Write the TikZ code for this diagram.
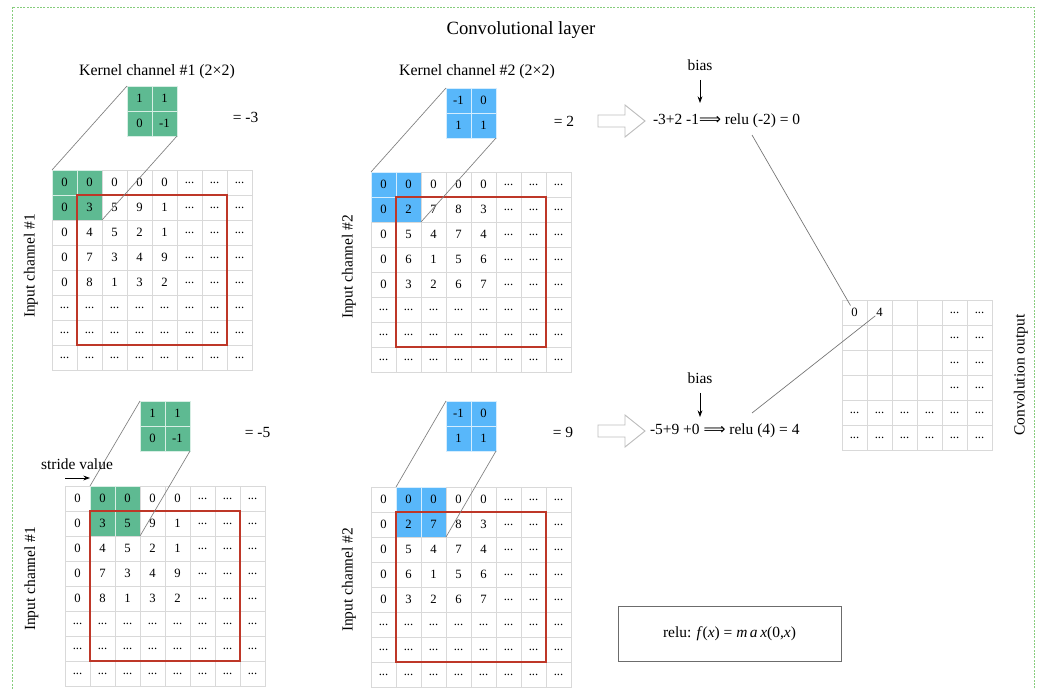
\documentclass[tikz,border=0pt]{standalone}
\usepackage{fontspec}
\setmainfont{Liberation Serif}
\newfontfamily\symfont{DejaVu Sans}
\usetikzlibrary{arrows.meta}

\definecolor{kgreen}{RGB}{94,186,146}
\definecolor{kblue}{RGB}{88,183,250}
\definecolor{gridgray}{RGB}{217,217,217}
\definecolor{winred}{RGB}{190,55,40}
\definecolor{framegreen}{RGB}{135,205,125}
\definecolor{hollow}{RGB}{190,190,190}

% ellipsis used as a cell entry (protected so \foreach leaves it alone)
\protected\def\cdts{...}
% long double arrow as a single glyph
\newcommand\impl{{\symfont\fontsize{11.5}{12}\selectfont ⟹}}

% one grid of 25px cells; #1 name, #2/#3 top-left corner, #4 first highlighted column,
% #5 style of the highlighted 2x2 block, #6 macro holding the rows
\newcommand\cellgrid[6]{%
  \foreach \row [count=\rr from 0] in #6 {%
    \foreach \v [count=\cc from 0] in \row {%
      \pgfmathtruncatemacro\hit{(\cc>=#4)&&(\cc<=#4+1)&&(\rr<=1)}%
      \ifnum\hit=1 \def\st{#5}\else\def\st{cell}\fi
      \node[\st] (#1-\cc-\rr) at ({#2+12.5+25*\cc},{#3+12.5+25*\rr}) {\v};
    }%
  }%
}

\def\rowsone{{0,0,0,0,0,\cdts,\cdts,\cdts},{0,3,5,9,1,\cdts,\cdts,\cdts},{0,4,5,2,1,\cdts,\cdts,\cdts},{0,7,3,4,9,\cdts,\cdts,\cdts},{0,8,1,3,2,\cdts,\cdts,\cdts},{\cdts,\cdts,\cdts,\cdts,\cdts,\cdts,\cdts,\cdts},{\cdts,\cdts,\cdts,\cdts,\cdts,\cdts,\cdts,\cdts},{\cdts,\cdts,\cdts,\cdts,\cdts,\cdts,\cdts,\cdts}}
\def\rowstwo{{0,0,0,0,0,\cdts,\cdts,\cdts},{0,2,7,8,3,\cdts,\cdts,\cdts},{0,5,4,7,4,\cdts,\cdts,\cdts},{0,6,1,5,6,\cdts,\cdts,\cdts},{0,3,2,6,7,\cdts,\cdts,\cdts},{\cdts,\cdts,\cdts,\cdts,\cdts,\cdts,\cdts,\cdts},{\cdts,\cdts,\cdts,\cdts,\cdts,\cdts,\cdts,\cdts},{\cdts,\cdts,\cdts,\cdts,\cdts,\cdts,\cdts,\cdts}}
\def\rowsout{{0,4,{},{},\cdts,\cdts},{{},{},{},{},\cdts,\cdts},{{},{},{},{},\cdts,\cdts},{{},{},{},{},\cdts,\cdts},{\cdts,\cdts,\cdts,\cdts,\cdts,\cdts},{\cdts,\cdts,\cdts,\cdts,\cdts,\cdts}}
\def\kernelone{{1,1},{0,-1}}
\def\kerneltwo{{-1,0},{1,1}}

\tikzset{
  cell/.style={draw=gridgray, line width=0.6pt, minimum width=18.75pt, minimum height=18.75pt,
    inner sep=0pt, outer sep=0pt, font=\fontsize{9.5}{11}\selectfont},
  kg/.style={cell, fill=kgreen, draw=white!75!kgreen},
  kb/.style={cell, fill=kblue, draw=white!75!kblue},
  lbl/.style={inner sep=0pt, outer sep=0pt, font=\fontsize{11.6}{13}\selectfont},
  ktitle/.style={inner sep=0pt, font=\fontsize{11.9}{14}\selectfont},
  proj/.style={draw=gray, line width=0.5pt},
  redbox/.style={draw=winred, line width=0.8pt},
  arr/.style={-{Stealth[length=5pt,width=3.6pt]}, line width=0.6pt},
  link/.style={draw=gray!90!black, line width=0.5pt},
  hollowarrow/.style={draw=hollow, line width=0.7pt, fill=white}
}

\begin{document}
\begin{tikzpicture}[x=0.75pt,y=-0.75pt]
\useasboundingbox (0,0) rectangle (1042,689);
\fill[white] (0,0) rectangle (1042,689);

% frame of the layer
\draw[framegreen, dash pattern=on 1.5pt off 1pt, line width=0.6pt] (12,7) rectangle (1034,700);
\node[font=\fontsize{14}{16}\selectfont, inner sep=0pt] (title) at (521,30) {Convolutional layer};

% ---------- first position of the kernel ----------
\node[ktitle] (kt1) at (157,72) {Kernel channel \#1 (2×2)};
\cellgrid{K1}{127}{86}{0}{kg}{\kernelone}
\cellgrid{A}{52}{170}{0}{kg}{\rowsone}
\draw[redbox] (A-1-1.north west) rectangle (A-6-6.south east);
\draw[proj] (K1-0-0.north west) -- (A-0-0.north west);
\draw[proj] (K1-1-1.south east) -- (A-1-1.south east);
\node[lbl] (eq1) at (245.5,117) {= -3};
\node[lbl, rotate=90] (in1) at (31,266) {Input channel \#1};

\node[ktitle] (kt2) at (477,72) {Kernel channel \#2 (2×2)};
\cellgrid{K2}{446}{88}{0}{kb}{\kerneltwo}
\cellgrid{B}{371}{172}{0}{kb}{\rowstwo}
\draw[redbox] (B-1-1.north west) rectangle (B-6-6.south east);
\draw[proj] (K2-0-0.north west) -- (B-0-0.north west);
\draw[proj] (K2-1-1.south east) -- (B-1-1.south east);
\node[lbl] (eq2) at (564,121) {= 2};
\node[lbl, rotate=90] (in2) at (349,267) {Input channel \#2};

% sum, bias and activation
\draw[hollowarrow] (598,115) -- (625,115) -- (625,105) -- (645,121) -- (625,137) -- (625,127) -- (598,127) -- cycle;
\node[lbl, anchor=west] (f1) at (653,121) {-3+2 -1\impl{} relu (-2) = 0};
\node[lbl] (bias1) at (700,65) {bias};
\coordinate (bt1) at (700,103);
\draw[arr, shorten <=7pt] (bias1.south) -- (bt1);

% ---------- second position (after one stride) ----------
\cellgrid{K3}{140}{401}{0}{kg}{\kernelone}
\cellgrid{C}{65}{486}{1}{kg}{\rowsone}
\draw[redbox] (C-1-1.north west) rectangle (C-6-6.south east);
\draw[proj] (K3-0-0.north west) -- (C-1-0.north west);
\draw[proj] (K3-1-1.south east) -- (C-2-1.south east);
\node[lbl] (eq3) at (257.5,433) {= -5};
\node[lbl, rotate=90] (in3) at (31.5,579) {Input channel \#1};
\node[lbl] (stride) at (77,464) {stride value};
\coordinate (st0) at (65,478);
\coordinate (st1) at (90,478);
\draw[arr] (st0) -- (st1);

\cellgrid{K4}{446}{401}{0}{kb}{\kerneltwo}
\cellgrid{D}{371}{487}{1}{kb}{\rowstwo}
\draw[redbox] (D-1-1.north west) rectangle (D-6-6.south east);
\draw[proj] (K4-0-0.north west) -- (D-1-0.north west);
\draw[proj] (K4-1-1.south east) -- (D-2-1.south east);
\node[lbl] (eq4) at (563,432) {= 9};
\node[lbl, rotate=90] (in4) at (349,580) {Input channel \#2};

\draw[hollowarrow] (598,425) -- (625,425) -- (625,415) -- (645,431) -- (625,447) -- (625,437) -- (598,437) -- cycle;
\node[lbl, anchor=west] (f2) at (650,431) {-5+9 +0 \impl{} relu (4) = 4};
\node[lbl] (bias2) at (700,378) {bias};
\coordinate (bt2) at (700,417);
\draw[arr, shorten <=7pt] (bias2.south) -- (bt2);

% ---------- output feature map ----------
\cellgrid{O}{842}{300}{99}{cell}{\rowsout}
\node[lbl, rotate=90] (outlbl) at (1021,375) {Convolution output};
\coordinate (r1) at (752,135);
\coordinate (r2) at (752,413);
\draw[link, shorten >=6pt] (r1) -- (O-0-0.center);
\draw[link, shorten >=4pt] (r2) -- (O-1-0.center);

% activation function
\node[draw=gray!85!black, line width=0.6pt, minimum width=167.25pt, minimum height=41.25pt,
  font=\fontsize{11.6}{13}\selectfont] (relubox) at (729.5,633.5)
  {relu: \textit{f}(\textit{x}) = \textit{m\,a\,x}(0,\textit{x})};
\end{tikzpicture}
\end{document}
